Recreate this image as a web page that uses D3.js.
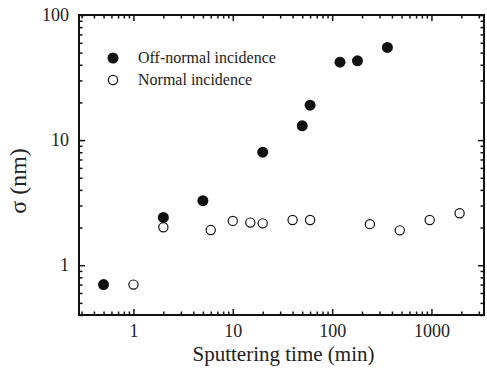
<!DOCTYPE html>
<html><head><meta charset="utf-8">
<script src="https://cdn.jsdelivr.net/npm/d3@7"></script>
<style>body{margin:0;background:#fff}svg{display:block}</style>
</head><body><svg id="c" width="487" height="375"></svg>
<script>
const offTime = [0.5, 2, 5, 20, 50, 60, 120, 180, 360];
const offSigma = [0.70, 2.41, 3.28, 8.0, 13, 19, 42, 43, 55];
const normTime = [1, 2, 6, 10, 15, 20, 40, 60, 240, 480, 960, 1920];
const normSigma = [0.70, 2.01, 1.91, 2.26, 2.19, 2.16, 2.30, 2.30, 2.13, 1.90, 2.30, 2.60];
const xMajor = [1, 10, 100, 1000];
const yMajor = [1, 10, 100];
const legendLabels = ["Off-normal incidence", "Normal incidence"];

const FONT = "Liberation Serif";
const L = 79, R = 484, T = 15, B = 315;
const svg = d3.select("#c");
const x = d3.scaleLog().domain([0.283, 3380]).range([L, R]);
const y = d3.scaleLog().domain([0.4, 100]).range([B, T]);

function minors(scale) {
  const [a, b] = scale.domain();
  const out = [];
  for (let e = Math.floor(Math.log10(a)); e <= Math.ceil(Math.log10(b)); e++) {
    for (let m = 2; m <= 9; m++) {
      const v = m * Math.pow(10, e);
      if (v >= a && v <= b) out.push(v);
    }
  }
  return out;
}
const fmt = d => String(d);

function styleAxis(g) {
  g.attr("font-family", null).attr("font-size", null);
  g.select(".domain").remove();
  g.selectAll(".tick line").attr("stroke", "#111").attr("stroke-width", 1.5);
  g.selectAll("text").style("font-family", FONT).style("font-size", "18px").attr("fill", "#222");
}
// bottom
svg.append("g").attr("transform", `translate(0,${B})`)
  .call(d3.axisBottom(x).tickValues(xMajor).tickFormat(fmt).tickSizeInner(-6).tickSizeOuter(0).tickPadding(9))
  .call(styleAxis);
svg.append("g").attr("transform", `translate(0,${B})`)
  .call(d3.axisBottom(x).tickValues(minors(x)).tickFormat("").tickSizeInner(-3.5).tickSizeOuter(0)).call(styleAxis);
// top
svg.append("g").attr("transform", `translate(0,${T})`)
  .call(d3.axisTop(x).tickValues(xMajor).tickFormat("").tickSizeInner(-6).tickSizeOuter(0)).call(styleAxis);
svg.append("g").attr("transform", `translate(0,${T})`)
  .call(d3.axisTop(x).tickValues(minors(x)).tickFormat("").tickSizeInner(-3.5).tickSizeOuter(0)).call(styleAxis);
// left
svg.append("g").attr("transform", `translate(${L},0)`)
  .call(d3.axisLeft(y).tickValues(yMajor).tickFormat(fmt).tickSizeInner(-6).tickSizeOuter(0).tickPadding(10))
  .call(styleAxis);
svg.append("g").attr("transform", `translate(${L},0)`)
  .call(d3.axisLeft(y).tickValues(minors(y)).tickFormat("").tickSizeInner(-3.5).tickSizeOuter(0)).call(styleAxis);
// right
svg.append("g").attr("transform", `translate(${R},0)`)
  .call(d3.axisRight(y).tickValues(yMajor).tickFormat("").tickSizeInner(-6).tickSizeOuter(0)).call(styleAxis);
svg.append("g").attr("transform", `translate(${R},0)`)
  .call(d3.axisRight(y).tickValues(minors(y)).tickFormat("").tickSizeInner(-3.5).tickSizeOuter(0)).call(styleAxis);

svg.append("rect").attr("x", L).attr("y", T).attr("width", R - L).attr("height", B - T)
  .attr("fill", "none").attr("stroke", "#111").attr("stroke-width", 2);

// data
svg.append("g").selectAll("circle").data(normTime.map((t, i) => [t, normSigma[i]])).join("circle")
  .attr("cx", d => x(d[0])).attr("cy", d => y(d[1])).attr("r", 4.6)
  .attr("fill", "#fff").attr("stroke", "#111").attr("stroke-width", 1.2);
svg.append("g").selectAll("circle").data(offTime.map((t, i) => [t, offSigma[i]])).join("circle")
  .attr("cx", d => x(d[0])).attr("cy", d => y(d[1])).attr("r", 5.5).attr("fill", "#111");

// legend
svg.append("circle").attr("cx", 113).attr("cy", 58).attr("r", 5.5).attr("fill", "#111");
svg.append("circle").attr("cx", 113).attr("cy", 80).attr("r", 4.6).attr("fill", "#fff").attr("stroke", "#111").attr("stroke-width", 1.2);
const txt = (sel, size) => sel.style("font-family", FONT).style("font-size", size + "px").attr("fill", "#222");
svg.append("text").attr("x", 138).attr("y", 63).text(legendLabels[0]).call(txt, 16);
svg.append("text").attr("x", 138).attr("y", 85).text(legendLabels[1]).call(txt, 16);

// titles
svg.append("text").attr("x", (L + R) / 2 + 2).attr("y", 361).attr("text-anchor", "middle").text("Sputtering time (min)").call(txt, 21);
svg.append("text").attr("transform", "translate(25.5,181) rotate(-90)").attr("text-anchor", "middle").text("σ (nm)").call(txt, 24);
</script></body></html>
